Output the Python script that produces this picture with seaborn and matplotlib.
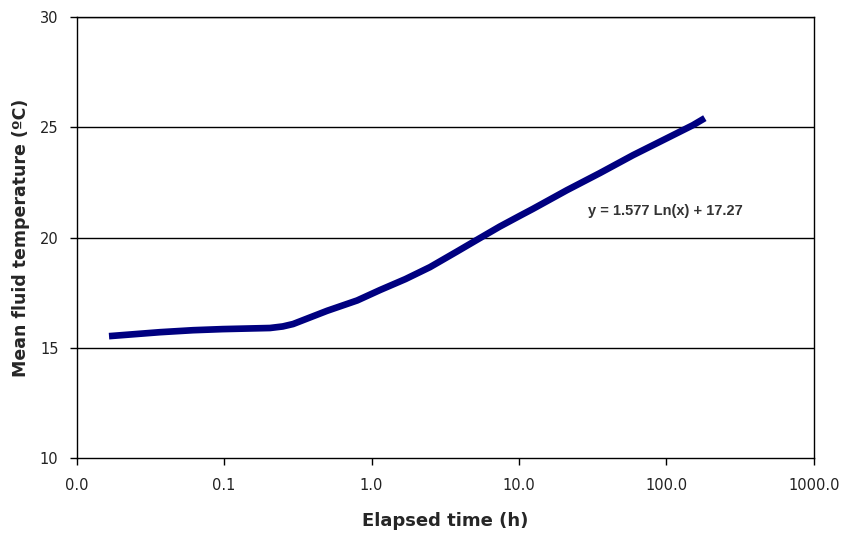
import numpy as np
import pandas as pd
import matplotlib
matplotlib.use("Agg")
import matplotlib.pyplot as plt
import seaborn as sns

# values
elapsed_h = [0.0166, 0.0368, 0.0617, 0.098, 0.205, 0.25, 0.294, 0.5, 0.80,
             1.14, 1.7, 2.49, 3.8, 5.44, 7.4, 10.2, 12.4, 21.1, 35.4, 59.3, 100.7, 151, 182]
mean_temp = [15.53, 15.71, 15.80, 15.85, 15.90, 15.97, 16.08, 16.68, 17.15,
             17.62, 18.12, 18.66, 19.37, 19.98, 20.5, 21.0, 21.3, 22.15, 22.93, 23.74, 24.51, 25.10, 25.42]
x_ticks = [0.01, 0.1, 1, 10, 100, 1000]
y_ticks = [10, 15, 20, 25, 30]
fit_label = "y = 1.577 Ln(x) + 17.27"

df = pd.DataFrame({"Elapsed time (h)": elapsed_h, "Mean fluid temperature (ºC)": mean_temp})

sns.set_style("ticks")
plt.rcParams['font.family'] = ['DejaVu Sans']

fig = plt.figure(figsize=(8.42, 5.37), dpi=100)
ax = fig.add_axes([0.0909, 0.147, 0.8758, 0.821])

sns.lineplot(data=df, x="Elapsed time (h)", y="Mean fluid temperature (ºC)",
             color="#000080", linewidth=4.8, ax=ax, solid_capstyle='butt')

ax.set_xscale('log')
ax.set_xlim(0.01, 1000)
ax.set_ylim(10, 30)
ax.set_xticks(x_ticks)
ax.set_xticklabels(["%.1f" % t for t in x_ticks])
ax.xaxis.set_minor_locator(matplotlib.ticker.NullLocator())
ax.set_yticks(y_ticks)
for t in y_ticks[1:]:
    ax.axhline(t, color="black", linewidth=1.0, zorder=0)

for s in ax.spines.values():
    s.set_color("black")
    s.set_linewidth(1.0)

ax.tick_params(axis='both', direction='out', length=5, width=1, colors='black',
               labelsize=10.5, labelcolor='#222222')
ax.tick_params(axis='x', pad=9)
ax.tick_params(axis='y', pad=8)
ax.set_xlabel("Elapsed time (h)", fontsize=13, fontweight='bold', labelpad=14)
ax.set_ylabel("Mean fluid temperature (ºC)", fontsize=12.5, fontweight='bold', labelpad=7)

ax.text(0.693, 0.56, fit_label, transform=ax.transAxes, fontsize=10.5,
        fontweight='bold', color='#333333', va='center', ha='left',
        family='Liberation Sans')

fig.savefig("out.png", dpi=100)
